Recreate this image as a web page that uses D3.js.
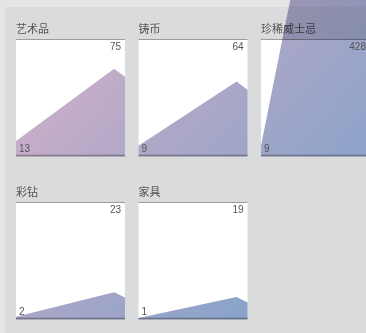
<!DOCTYPE html>
<html>
<head>
<meta charset="utf-8">
<script src="https://cdn.jsdelivr.net/npm/d3@7"></script>
<style>
  html, body { margin: 0; padding: 0; background: #e4e5e7; }
  svg { display: block; }
  text { font-family: "Liberation Sans", "Noto Sans CJK SC", sans-serif; }
</style>
</head>
<body>
<svg id="chart" width="366" height="333"></svg>
<script>
// Asset classes and their index values at three points of the period
const categories = ["艺术品", "铸币", "珍稀威士忌", "彩钻", "家具"];
const periods = [0, 9, 10];
const artValues = [13, 75, 68];
const coinValues = [9, 64, 57];
const whiskyValues = [9, 428, 400];
const diamondValues = [2, 23, 18.5];
const furnitureValues = [1, 19, 14.3];
const seriesValues = [artValues, coinValues, whiskyValues, diamondValues, furnitureValues];
const yDomain = [0, 100];

const W = 366, H = 333;
const svg = d3.select("#chart");

// Layout of the small multiples
const cols = 3;
const panelW = 109, panelH = 116.7;
const colX = [16, 138.5, 261];
const rowY = [39.5, 202.5];

// Colour stops of the fill, laid out across the whole figure
const gradientStops = [
  [0, "#d2b2cc"], [0.24, "#c4adc9"], [0.44, "#aca7c7"], [0.78, "#8ba3ca"], [1, "#80a0cb"]
];

// Backdrop
svg.append("rect").attr("width", W).attr("height", H).attr("fill", "#e4e5e7");
svg.append("rect").attr("x", 5).attr("y", 7).attr("width", W - 5).attr("height", H - 7).attr("fill", "#dadbdd");

const defs = svg.append("defs");

const x = d3.scaleLinear().domain(d3.extent(periods)).range([0, panelW]);
const y = d3.scaleLinear().domain(yDomain).range([panelH, 0]);

const area = d3.area()
  .x((d, i) => x(periods[i]))
  .y0(panelH)
  .y1(d => y(d));

const panelData = categories.map((c, i) => ({
  name: c,
  values: seriesValues[i],
  i,
  tx: colX[i % cols],
  ty: rowY[Math.floor(i / cols)]
}));

// One gradient per panel, shifted so the colours run continuously across the figure
panelData.forEach(d => {
  const g = defs.append("linearGradient")
    .attr("id", "areaFill" + d.i)
    .attr("gradientUnits", "userSpaceOnUse")
    .attr("x1", -d.tx).attr("y1", -d.ty)
    .attr("x2", W - d.tx).attr("y2", H - d.ty);
  gradientStops.forEach(([o, c]) => g.append("stop").attr("offset", o).attr("stop-color", c));
});

const panels = svg.selectAll("g.panel")
  .data(panelData)
  .join("g")
  .attr("class", "panel")
  .attr("transform", d => `translate(${d.tx},${d.ty})`);

panels.append("rect")
  .attr("width", panelW).attr("height", panelH)
  .attr("fill", "#ffffff");

panels.append("text")
  .attr("x", 0).attr("y", -6.5)
  .attr("font-size", 11)
  .attr("fill", "#555555")
  .text(d => d.name);

panels.append("line")
  .attr("x1", 0).attr("x2", panelW)
  .attr("y1", 0).attr("y2", 0)
  .attr("stroke", "#9c9c9c").attr("stroke-width", 1);

panels.append("path")
  .attr("d", d => area(d.values))
  .attr("fill", d => `url(#areaFill${d.i})`)
  .style("mix-blend-mode", "multiply");

panels.append("line")
  .attr("x1", 0).attr("x2", panelW)
  .attr("y1", panelH - 0.5).attr("y2", panelH - 0.5)
  .attr("stroke", "#b0b0b0").attr("stroke-width", 1.8)
  .style("mix-blend-mode", "multiply");

panels.append("text")
  .attr("x", panelW - 4).attr("y", 10.5)
  .attr("text-anchor", "end")
  .attr("font-size", 10)
  .attr("fill", "#555555")
  .text(d => d3.max(d.values));

panels.append("text")
  .attr("x", 3).attr("y", panelH - 4)
  .attr("font-size", 10)
  .attr("fill", "#555555")
  .text(d => d.values[0]);
</script>
</body>
</html>
